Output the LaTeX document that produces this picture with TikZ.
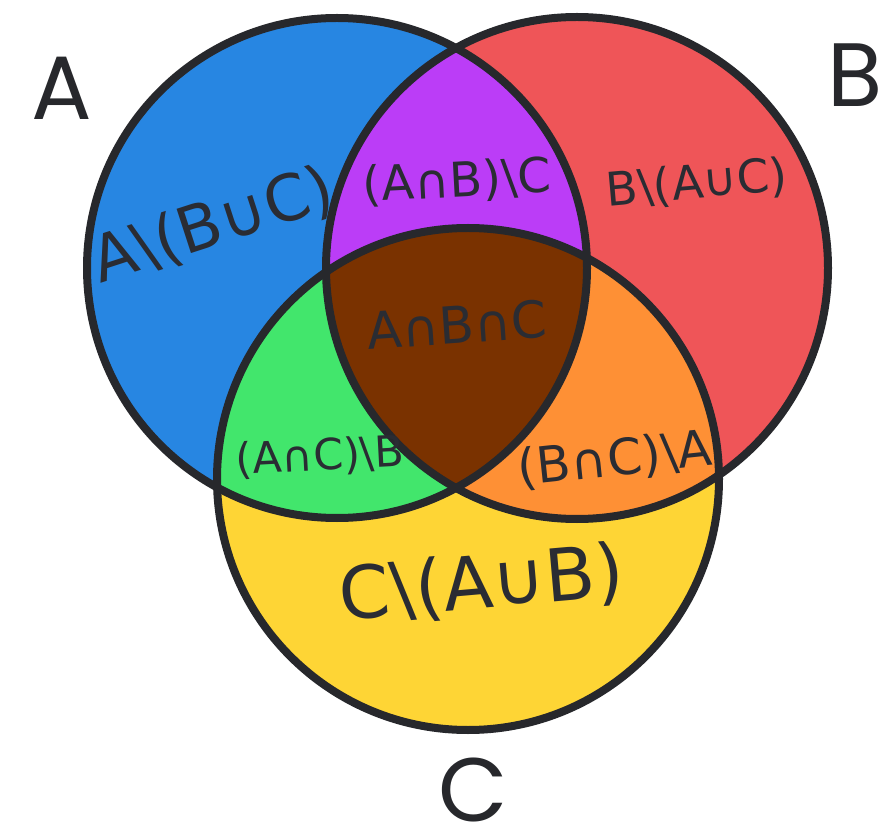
\documentclass[tikz,border=0pt]{standalone}
\usepackage{fontspec}
\usepackage{graphicx}
\setmainfont{DejaVu Sans}
\newfontfamily\labfont{Poppins}
\definecolor{cA}{HTML}{2786E2}
\definecolor{cB}{HTML}{EF5558}
\definecolor{cC}{HTML}{FED535}
\definecolor{cAB}{HTML}{BB3DF7}
\definecolor{cAC}{HTML}{42E66C}
\definecolor{cBC}{HTML}{FE9035}
\definecolor{cABC}{HTML}{7A3200}
\definecolor{edge}{HTML}{27282C}
\definecolor{ink}{HTML}{2A2C33}
\tikzset{
  setlabel/.style={font=\labfont\fontsize{90}{90}\selectfont, text=edge, inner sep=0pt},
  regionlabel/.style={text=ink, inner sep=0pt},
  outline/.style={draw=edge, line width=8pt}
}
\newcommand{\regtext}[2]{\resizebox{#1pt}{!}{#2}}
\begin{document}
\begin{tikzpicture}[x=1pt,y=-1pt]
\useasboundingbox (0,0) rectangle (887,834);
\fill[white] (0,0) rectangle (887,834);
% circle centres and radii
\coordinate (Ac) at (337,268);
\coordinate (Bc) at (577,268);
\coordinate (Cc) at (468,479);
\def\rA{250}\def\rB{251}\def\rC{251}
% base fills
\fill[cA] (Ac) circle (\rA);
\fill[cB] (Bc) circle (\rB);
\fill[cC] (Cc) circle (\rC);
% pairwise
\begin{scope}
  \clip (Ac) circle (\rA);
  \fill[cAB] (Bc) circle (\rB);
  \fill[cAC] (Cc) circle (\rC);
\end{scope}
\begin{scope}
  \clip (Bc) circle (\rB);
  \fill[cBC] (Cc) circle (\rC);
\end{scope}
\begin{scope}
  \clip (Ac) circle (\rA);
  \clip (Bc) circle (\rB);
  \fill[cABC] (Cc) circle (\rC);
\end{scope}
% outlines
\draw[outline] (Ac) circle (\rA);
\draw[outline] (Bc) circle (\rB);
\draw[outline] (Cc) circle (\rC);
% cropped fragment at left edge
\draw[gray!45, line width=3pt] (-30,472) arc[start angle=-60, end angle=60, radius=38];
% set labels
\node[setlabel] (labA) at (62,88) {A};
\node[setlabel] (labB) at (855,75) {B};
\node[setlabel] (labC) at (473,790) {C};
% region labels
\node[regionlabel, rotate=18] (rA) at (213,226) {\regtext{250}{A\textbackslash(B∪C)}};
\node[regionlabel, rotate=3] (rAB) at (457,182) {\regtext{188}{(A∩B)\textbackslash C}};
\node[regionlabel, rotate=5] (rB) at (697,184) {\regtext{182}{B\textbackslash(A∪C)}};
\node[regionlabel, rotate=4] (rABC) at (457,325) {\regtext{180}{A∩B∩C}};
\node[regionlabel, rotate=3] (rAC) at (320,457) {\regtext{168}{(A∩C)\textbackslash B}};
\node[regionlabel, rotate=6] (rBC) at (615,460) {\regtext{195}{(B∩C)\textbackslash A}};
\node[regionlabel, rotate=5] (rC) at (482,585) {\regtext{285}{C\textbackslash(A∪B)}};
\end{tikzpicture}
\end{document}
